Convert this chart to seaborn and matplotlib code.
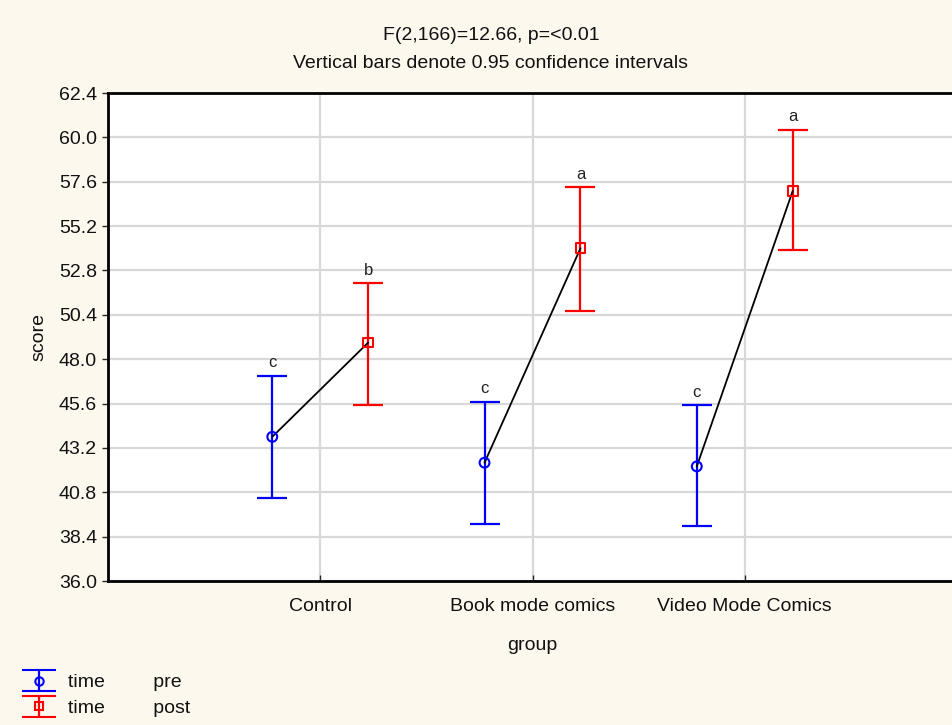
import matplotlib
matplotlib.use("Agg")
import matplotlib.pyplot as plt
from matplotlib.legend_handler import HandlerErrorbar
import numpy as np
import pandas as pd
import seaborn as sns

# Group means and 0.95 confidence limits of the score, by time
groups = ["Control", "Book mode comics", "Video Mode Comics"]
times = ["pre", "post"]
pre_mean = [43.8, 42.4, 42.2]
pre_lo = [40.5, 39.1, 39.0]
pre_hi = [47.1, 45.7, 45.5]
post_mean = [48.9, 54.0, 57.1]
post_lo = [45.5, 50.6, 53.9]
post_hi = [52.1, 57.3, 60.4]
letters_pre = ["c", "c", "c"]
letters_post = ["b", "a", "a"]
y_ticks = [36.0, 38.4, 40.8, 43.2, 45.6, 48.0, 50.4, 52.8, 55.2, 57.6, 60.0, 62.4]

df = pd.DataFrame({
    "group": groups * 2,
    "time": ["pre"] * 3 + ["post"] * 3,
    "score": pre_mean + post_mean,
    "lo": pre_lo + post_lo,
    "hi": pre_hi + post_hi,
    "letter": letters_pre + letters_post,
})

sns.set_theme(style="white")
plt.rcParams["font.family"] = ["Liberation Sans", "DejaVu Sans"]

bg = "#fdf8ee"
colors = {"pre": "#0000ff", "post": "#ff0000"}
markers = {"pre": "o", "post": "s"}
dodge = {"pre": -0.226, "post": 0.226}
FS = 14

fig = plt.figure(figsize=(9.53, 7.25), dpi=100, facecolor=bg)
ax = fig.add_axes([108 / 953, 1 - 581 / 725, (957 - 108) / 953, (581 - 93) / 725])
ax.set_facecolor("white")

df["x"] = df["group"].map({g: i for i, g in enumerate(groups)}) + df["time"].map(dodge)

# connecting line pre -> post within each group
for g, sub in df.groupby("group", sort=False):
    sns.lineplot(data=sub, x="x", y="score", color="black", lw=1.3,
                 ax=ax, legend=False, sort=False, zorder=3)

for t in times:
    sub = df[df["time"] == t]
    ax.errorbar(sub["x"], sub["score"],
                yerr=[sub["score"] - sub["lo"], sub["hi"] - sub["score"]],
                fmt="none", ecolor=colors[t], elinewidth=1.6, capsize=11,
                capthick=1.6, zorder=2)
    sns.scatterplot(data=sub, x="x", y="score", marker=markers[t], s=50,
                    facecolor="none", edgecolor=colors[t], linewidth=1.5,
                    ax=ax, legend=False, zorder=4)
    for _, r in sub.iterrows():
        ax.annotate(r["letter"], (r["x"], r["hi"]), xytext=(0, 4),
                    textcoords="offset points", ha="center", va="bottom",
                    fontsize=12, color="#222222")

ax.set_xlim(-1, 3)
ax.set_ylim(36.0, 62.4)
ax.set_yticks(y_ticks)
ax.set_yticklabels([f"{v:.1f}" for v in y_ticks])
ax.set_xticks(range(len(groups)))
ax.set_xticklabels(groups)
ax.grid(True, color="#d8d8d8", lw=1.6)
ax.set_axisbelow(True)

for side in ["left", "bottom", "top", "right"]:
    ax.spines[side].set_color("black")
    ax.spines[side].set_linewidth(2)
ax.tick_params(axis="y", which="major", direction="out", length=4, width=1,
               labelsize=FS, pad=4, left=True, labelcolor="#111111")
ax.tick_params(axis="x", which="major", direction="in", length=4, width=1,
               labelsize=FS, pad=12, bottom=True, labelcolor="#111111")

ax.set_xlabel("group", fontsize=FS, labelpad=16, color="#111111")
ax.set_ylabel("score", fontsize=FS, labelpad=8, color="#111111")

fig.text(491 / 953, 1 - 36 / 725, "F(2,166)=12.66, p=<0.01", ha="center",
         va="center", fontsize=FS, color="#111111")
fig.text(491 / 953, 1 - 63 / 725, "Vertical bars denote 0.95 confidence intervals",
         ha="center", va="center", fontsize=FS, color="#111111")

# legend below the plot area: proxy error bars (NaN data keeps the cap lines)
handles = []
labels = []
for t in times:
    h = ax.errorbar([np.nan], [np.nan], yerr=[1.0], fmt=markers[t],
                    color=colors[t], mfc="none", ms=6, mew=1.5, capsize=12.5,
                    elinewidth=1.6, capthick=1.6)
    handles.append(h)
    labels.append(f"time         {t}")
leg = fig.legend(handles, labels, loc="upper left",
                 bbox_to_anchor=(14 / 953, 1 - 666 / 725), frameon=False,
                 fontsize=FS, handlelength=1.8, handletextpad=0.6,
                 labelspacing=0.42, borderaxespad=0,
                 handler_map={type(handles[0]): HandlerErrorbar(yerr_size=0.55)})
for txt in leg.get_texts():
    txt.set_color("#111111")

fig.savefig("out.png", dpi=100, facecolor=bg)
